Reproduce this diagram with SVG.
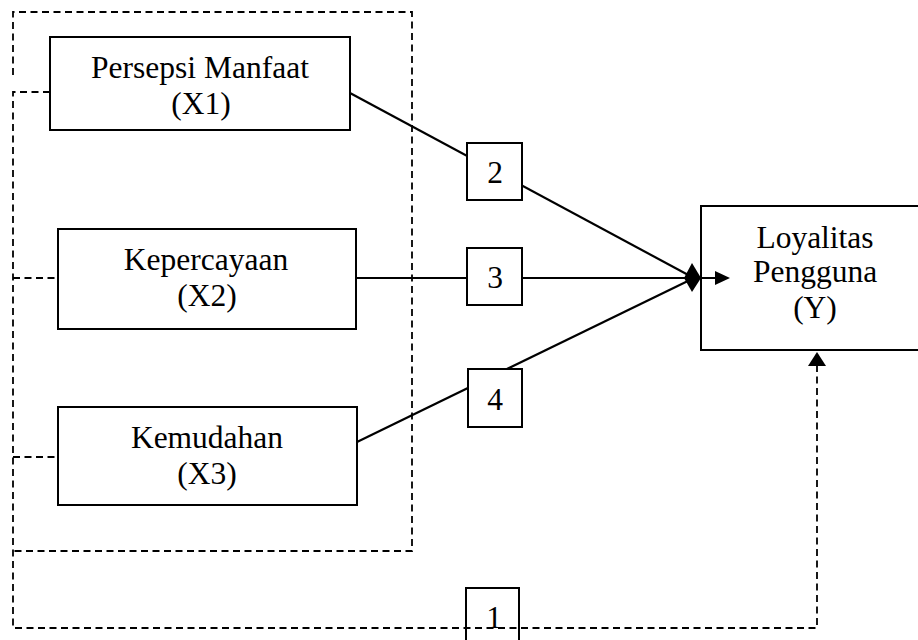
<svg xmlns="http://www.w3.org/2000/svg" width="918" height="640" viewBox="0 0 918 640">
<style>
.box{fill:#fff;stroke:#000;stroke-width:2}
.nb{fill:none;stroke:#000;stroke-width:2}
.t{font-family:"Liberation Serif","Times New Roman",serif;font-size:31.5px;fill:#000;text-anchor:middle}
.d{fill:none;stroke:#000;stroke-width:1.8;stroke-dasharray:7,4.5}
.s{fill:none;stroke:#000;stroke-width:2.2}
</style>
<rect width="918" height="640" fill="#fff"/>
<g id="connectors">
<path class="d" d="M13,75 V12 H412 V551 H13"/>
<path class="d" d="M50,92 H13 V628 H817 V366"/>
<path class="d" d="M13,278 H58"/>
<path class="d" d="M13,457 H58"/>
<line class="s" x1="350" y1="93" x2="692" y2="277"/>
<line class="s" x1="356" y1="278" x2="715" y2="278"/>
<line class="s" x1="357" y1="442" x2="692" y2="279"/>
<polygon points="701,278 692,263 684,278 692,292" fill="#000"/>
<polygon points="715,271 730,278 715,285" fill="#000"/>
<polygon points="808,366 817,352 826,366" fill="#000"/>
</g>
<g id="x1"><rect class="box" x="50" y="37" width="300" height="93"/><text class="t" x="200" y="78">Persepsi Manfaat</text><text class="t" x="201" y="114">(X1)</text></g>
<g id="x2"><rect class="box" x="58" y="229" width="298" height="100"/><text class="t" x="206" y="270">Kepercayaan</text><text class="t" x="207" y="306">(X2)</text></g>
<g id="x3"><rect class="box" x="58" y="407" width="299" height="98"/><text class="t" x="207" y="448">Kemudahan</text><text class="t" x="207" y="484">(X3)</text></g>
<g id="y"><rect class="nb" x="701" y="206" width="230" height="144"/><text class="t" x="815" y="248">Loyalitas</text><text class="t" x="815" y="282">Pengguna</text><text class="t" x="815" y="318">(Y)</text></g>
<g id="p2"><rect class="box" x="467" y="143" width="55" height="57"/><text class="t" x="495" y="183">2</text></g>
<g id="p3"><rect class="box" x="467" y="248" width="55" height="57"/><text class="t" x="495" y="288">3</text></g>
<g id="p4"><rect class="box" x="468" y="369" width="54" height="58"/><text class="t" x="495" y="410">4</text></g>
<g id="p1"><rect class="nb" x="466" y="588" width="53" height="60"/><text class="t" x="494" y="628">1</text></g>
</svg>
